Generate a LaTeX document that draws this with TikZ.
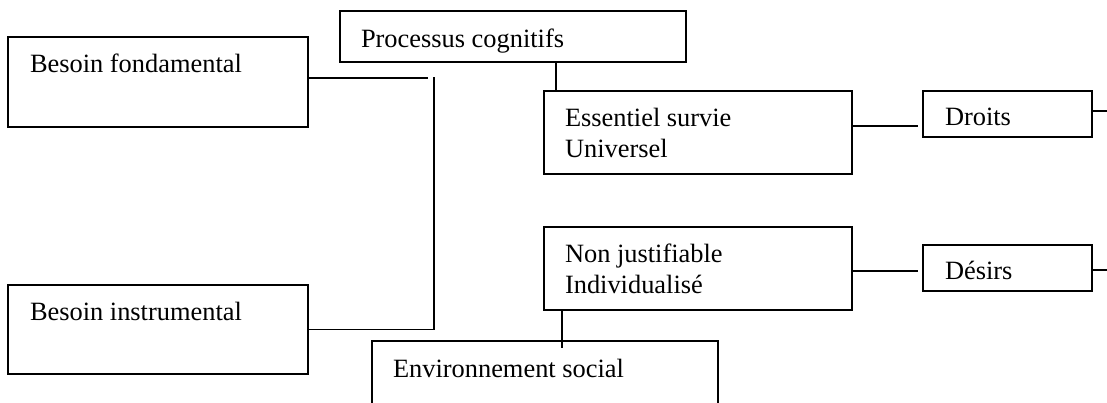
\documentclass[tikz,border=0pt]{standalone}
\usepackage{fontspec}
\setmainfont{Liberation Serif}
\begin{document}
\begin{tikzpicture}[x=1pt,y=-1pt,
  box/.style={draw, line width=1.8pt, inner sep=0pt, outer sep=0pt},
  txt/.style={font=\fontsize{26.4}{31}\selectfont, inner sep=0pt, outer sep=0pt, anchor=base west},
  conn/.style={line width=1.8pt}]
\useasboundingbox (0,0) rectangle (1107,402);
\clip (0,0) rectangle (1107,402);
% boxes
\node[box, minimum width=300pt, minimum height=90pt] (bf) at (158,82) {};
\node[box, minimum width=300pt, minimum height=89pt] (bi) at (158,329.5) {};
\node[box, minimum width=346pt, minimum height=51pt] (pc) at (513,36.5) {};
\node[box, minimum width=308pt, minimum height=83pt] (es) at (698,132.5) {};
\node[box, minimum width=308pt, minimum height=83pt] (nj) at (698,268.5) {};
\node[box, minimum width=169pt, minimum height=46pt] (dr) at (1007.5,114) {};
\node[box, minimum width=169pt, minimum height=46pt] (de) at (1007.5,268) {};
\node[box, minimum width=346pt, minimum height=79pt] (env) at (545,380.5) {};
% texts
\node[txt] (bft) at (30,72) {Besoin fondamental};
\node[txt] (bit) at (30,320) {Besoin instrumental};
\node[txt] (pct) at (361,47) {Processus cognitifs};
\node[txt] (est1) at (565,126) {Essentiel survie};
\node[txt] (est2) at (565,157) {Universel};
\node[txt] (njt1) at (565,262) {Non justifiable};
\node[txt] (njt2) at (565,293) {Individualisé};
\node[txt] (drt) at (945,125) {Droits};
\node[txt] (det) at (945,279) {Désirs};
\node[txt] (envt) at (393,377) {Environnement social};
% free ends
\coordinate (j1) at (428,78);
\coordinate (j2) at (434,77);
\coordinate (k1) at (918,126);
\coordinate (k2) at (1107,111);
\coordinate (k3) at (918,271);
\coordinate (k4) at (1107,270);
\coordinate (k5) at (562,348);
\coordinate (pcs) at ([xshift=43pt]pc.south);
\coordinate (njs) at ([xshift=-136pt]nj.south);
% connectors
\draw[conn] ([yshift=4pt]bf.east) -- (j1);
\draw[conn] (bi.east) -| (j2);
\draw[conn] (pcs) -- (pcs |- es.north);
\draw[conn] ([yshift=6.5pt]es.east) -- (k1);
\draw[conn] ([yshift=3pt]dr.east) -- (k2);
\draw[conn] ([yshift=-2.5pt]nj.east) -- (k3);
\draw[conn] ([yshift=-2pt]de.east) -- (k4);
\draw[conn] (njs) -- (k5);
\end{tikzpicture}
\end{document}
